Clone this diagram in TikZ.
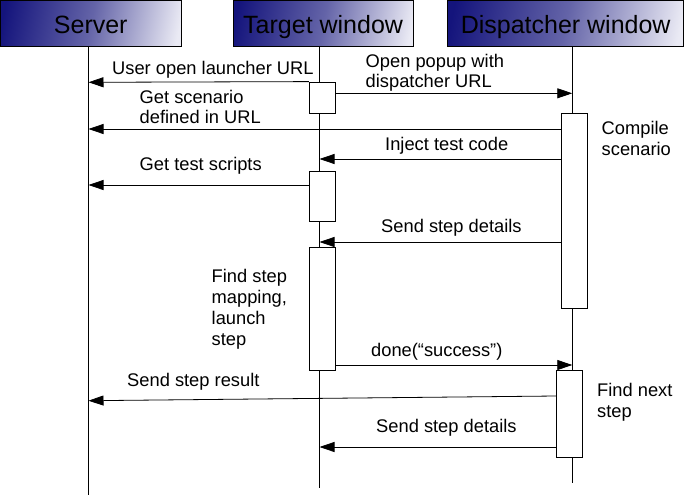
\documentclass[tikz,border=0pt]{standalone}
\usepackage{fontspec}
\setmainfont{Liberation Sans}
\usetikzlibrary{arrows.meta}
\definecolor{hdark}{RGB}{20,20,124}
\definecolor{hmid}{RGB}{100,100,168}
\definecolor{hlight}{RGB}{234,234,244}
\pgfdeclarehorizontalshading{hdrshade}{100bp}{color(0bp)=(hdark); color(22bp)=(hdark); color(50bp)=(hmid); color(78bp)=(hlight); color(100bp)=(hlight)}
\begin{document}
\begin{tikzpicture}[x=1pt,y=-1pt,
  hdr/.style={draw=black, line width=0.8pt, shading=hdrshade, shading angle=-12,
    minimum height=46pt, inner sep=0pt, font=\fontsize{25}{28}\selectfont,
    text height=20pt, text depth=0pt, anchor=north west},
  act/.style={draw=black, fill=white, line width=0.8pt, minimum width=26pt, inner sep=0pt},
  life/.style={draw=black, line width=0.8pt},
  msg/.style={draw=black, line width=0.8pt, -{Triangle[length=15pt,width=10pt]}},
  lbl/.style={inner sep=0pt, anchor=north west, align=left,
    font=\fontsize{18.3}{20.7}\selectfont, execute at begin node=\strut}
]
\useasboundingbox (0,0) rectangle (691,495);

% headers
\node[hdr, minimum width=180.7pt] (srv) at (0,0) {Server};
\node[hdr, minimum width=180pt] (tgt) at (232.7,0) {Target window};
\node[hdr, minimum width=236pt] (dsp) at (447.3,0) {Dispatcher window};

% lifelines
\coordinate (sEnd) at (88.5,495);
\coordinate (tEnd) at (319.5,488);
\coordinate (dEnd) at (572.3,483);
\draw[life] (sEnd |- srv.south) -- (sEnd);
\draw[life] (tEnd |- tgt.south) -- (tEnd);
\draw[life] (dEnd |- dsp.south) -- (dEnd);

% activation boxes
\node[act, minimum height=31pt] (t1) at (322.3,97.5) {};
\node[act, minimum height=50pt] (t2) at (322.3,196) {};
\node[act, minimum height=123pt] (t3) at (322.3,308.5) {};
\node[act, minimum height=195pt] (d1) at (574.15,210.5) {};
\node[act, minimum height=87pt] (d2) at (569.7,413.5) {};

% messages
\coordinate (s1) at (88.5,82.3);
\draw[msg] (t1.north west) -- (s1);
\coordinate (d0) at (572.3,93.3);
\draw[msg] (t1.east |- d0) -- (d0);
\coordinate (s2) at (88.5,129);
\draw[msg] (d1.west |- s2) -- (s2);
\coordinate (t4) at (319.5,159);
\draw[msg] (d1.west |- t4) -- (t4);
\coordinate (s3) at (88.5,185);
\draw[msg] (t2.west |- s3) -- (s3);
\coordinate (t6) at (319.5,242);
\draw[msg] (d1.west |- t6) -- (t6);
\coordinate (d7) at (572.3,365);
\draw[msg] (t3.east |- d7) -- (d7);
\coordinate (r8) at (0,396);
\coordinate (s8) at (88.5,400.7);
\draw[msg] (d2.west |- r8) -- (s8);
\coordinate (t9) at (319.5,447);
\draw[msg] (d2.west |- t9) -- (t9);

% labels
\node[lbl] (l1) at (112,59.5) {User open launcher URL};
\node[lbl] (l2) at (365.5,53.8) {Open popup with\\dispatcher URL};
\node[lbl] (l3) at (139.5,89.8) {Get scenario\\defined in URL};
\node[lbl] (l4) at (601.5,121.5) {Compile\\scenario};
\node[lbl] (l5) at (385,135.5) {Inject test code};
\node[lbl] (l6) at (139.5,156.2) {Get test scripts};
\node[lbl] (l7) at (381,218.2) {Send step details};
\node[lbl] (l8) at (211.5,269.5) {Find step\\mapping,\\launch\\step};
\node[lbl] (l9) at (371,341.5) {done(“success”)};
\node[lbl] (l10) at (127,372.2) {Send step result};
\node[lbl] (l11) at (597,383.2) {Find next\\step};
\node[lbl] (l12) at (376,418.2) {Send step details};
\end{tikzpicture}
\end{document}
